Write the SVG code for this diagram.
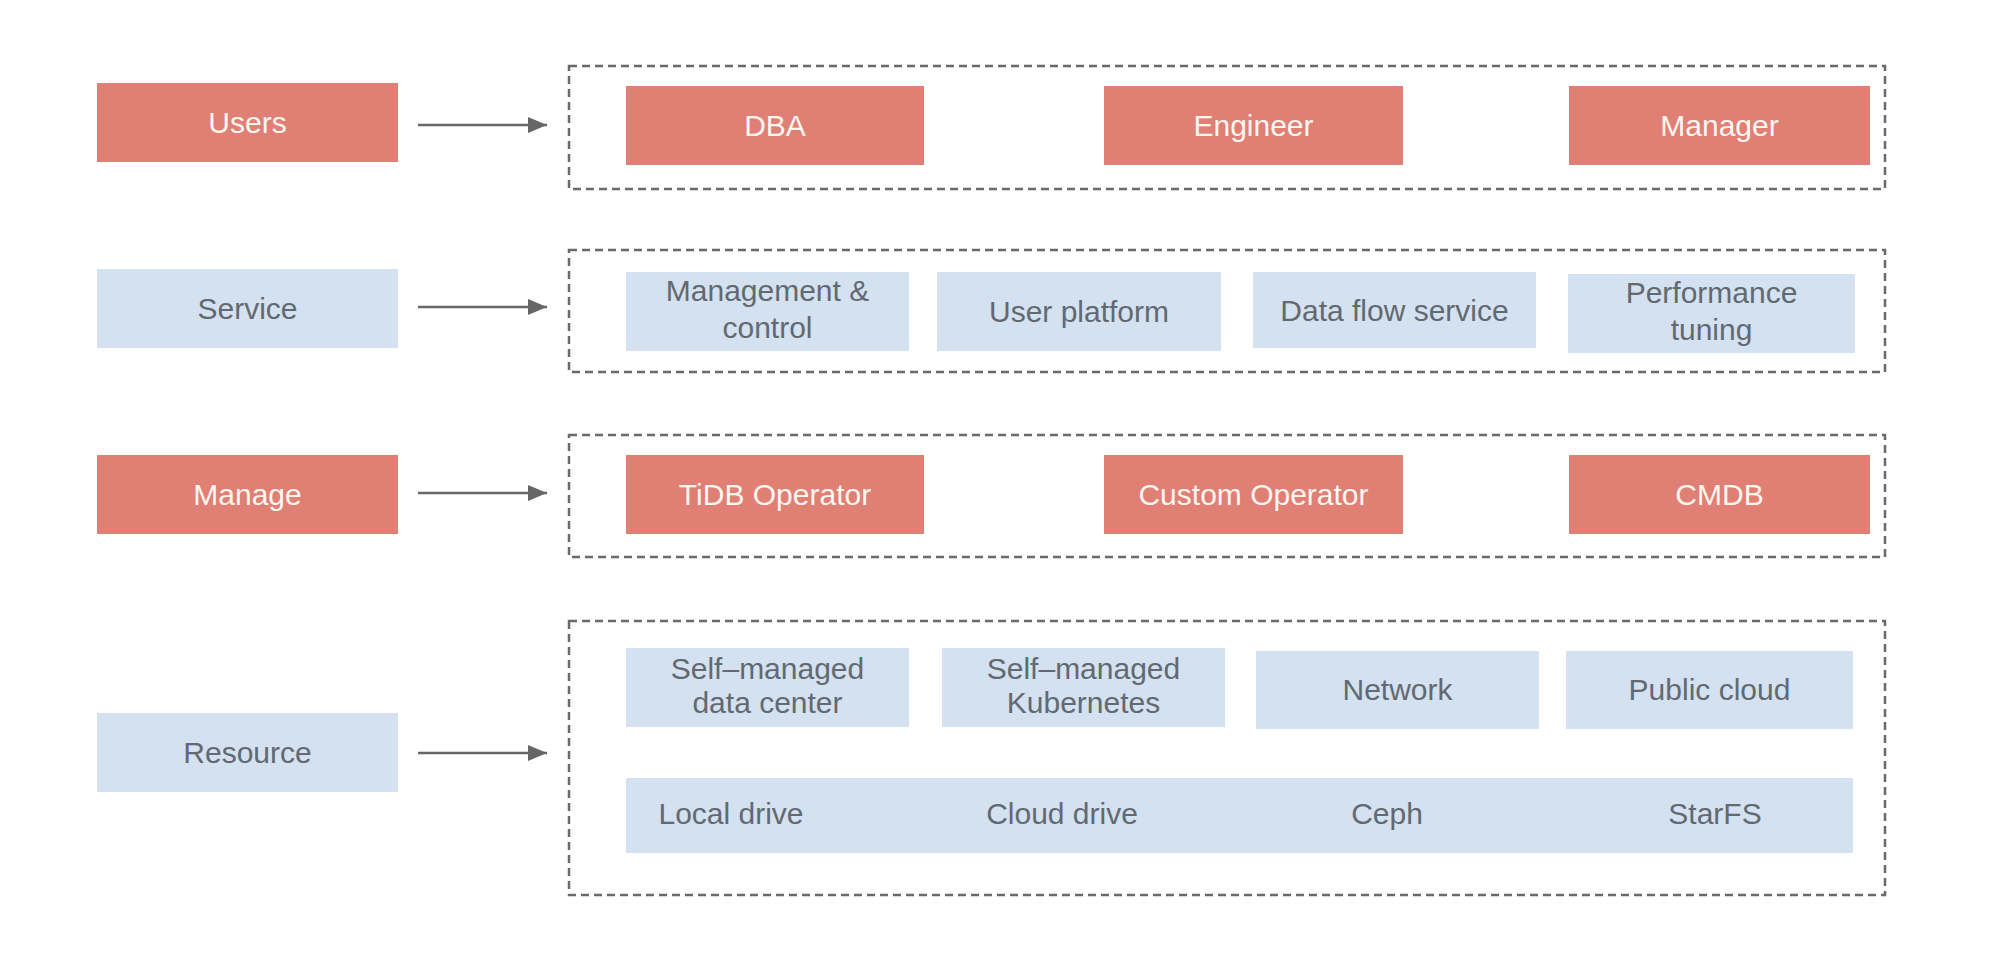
<svg xmlns="http://www.w3.org/2000/svg" width="1999" height="961" viewBox="0 0 1999 961">
  <defs>
    <style>
      .red { fill: #E07F73; }
      .blue { fill: #D3E1F1; }
      .tw { font-family: "Liberation Sans", Arial, sans-serif; font-size: 30px; fill: #FFF6F2; text-anchor: middle; }
      .tg { font-family: "Liberation Sans", Arial, sans-serif; font-size: 30px; fill: #626970; text-anchor: middle; }
      .dash { fill: none; stroke: #6A6A6A; stroke-width: 2.5; stroke-dasharray: 8 5; }
      .conn { stroke: #666666; stroke-width: 2.5; fill: none; }
    </style>
    <marker id="arrow" markerWidth="20" markerHeight="16" refX="19" refY="8" orient="auto" markerUnits="userSpaceOnUse">
      <polygon points="0,0 19,8 0,16" fill="#666666"/>
    </marker>
  </defs>
  <rect width="1999" height="961" fill="#FFFFFF"/>

  <!-- Layer labels -->
  <g id="users"><rect class="red" x="97" y="83" width="301" height="79"/><text class="tw" x="247.5" y="133">Users</text></g>
  <g id="service"><rect class="blue" x="97" y="269" width="301" height="79"/><text class="tg" x="247.5" y="319">Service</text></g>
  <g id="manage"><rect class="red" x="97" y="455" width="301" height="79"/><text class="tw" x="247.5" y="505">Manage</text></g>
  <g id="resource"><rect class="blue" x="97" y="713" width="301" height="79"/><text class="tg" x="247.5" y="763">Resource</text></g>

  <!-- Dashed containers -->
  <g id="users-group"><rect class="dash" x="569" y="66" width="1316" height="123"/></g>
  <g id="service-group"><rect class="dash" x="569" y="250" width="1316" height="122"/></g>
  <g id="manage-group"><rect class="dash" x="569" y="435" width="1316" height="122"/></g>
  <g id="resource-group"><rect class="dash" x="569" y="621" width="1316" height="274"/></g>

  <!-- Connectors -->
  <g id="connectors">
    <line class="conn" x1="418" y1="125" x2="547" y2="125" marker-end="url(#arrow)"/>
    <line class="conn" x1="418" y1="307" x2="547" y2="307" marker-end="url(#arrow)"/>
    <line class="conn" x1="418" y1="493" x2="547" y2="493" marker-end="url(#arrow)"/>
    <line class="conn" x1="418" y1="753" x2="547" y2="753" marker-end="url(#arrow)"/>
  </g>

  <!-- Users row -->
  <g id="dba"><rect class="red" x="626" y="86" width="298" height="79"/><text class="tw" x="775" y="136">DBA</text></g>
  <g id="engineer"><rect class="red" x="1104" y="86" width="299" height="79"/><text class="tw" x="1253.5" y="136">Engineer</text></g>
  <g id="manager"><rect class="red" x="1569" y="86" width="301" height="79"/><text class="tw" x="1719.5" y="136">Manager</text></g>

  <!-- Service row -->
  <g id="mgmt-control"><rect class="blue" x="626" y="272" width="283" height="79"/><text class="tg" x="767.5" y="301">Management &amp;</text><text class="tg" x="767.5" y="338">control</text></g>
  <g id="user-platform"><rect class="blue" x="937" y="272" width="284" height="79"/><text class="tg" x="1079" y="322">User platform</text></g>
  <g id="data-flow"><rect class="blue" x="1253" y="272" width="283" height="76"/><text class="tg" x="1394.5" y="321">Data flow service</text></g>
  <g id="perf-tuning"><rect class="blue" x="1568" y="274" width="287" height="79"/><text class="tg" x="1711.5" y="303">Performance</text><text class="tg" x="1711.5" y="340">tuning</text></g>

  <!-- Manage row -->
  <g id="tidb-operator"><rect class="red" x="626" y="455" width="298" height="79"/><text class="tw" x="775" y="505">TiDB Operator</text></g>
  <g id="custom-operator"><rect class="red" x="1104" y="455" width="299" height="79"/><text class="tw" x="1253.5" y="505">Custom Operator</text></g>
  <g id="cmdb"><rect class="red" x="1569" y="455" width="301" height="79"/><text class="tw" x="1719.5" y="505">CMDB</text></g>

  <!-- Resource row -->
  <g id="self-dc"><rect class="blue" x="626" y="648" width="283" height="79"/><text class="tg" x="767.5" y="679">Self–managed</text><text class="tg" x="767.5" y="713">data center</text></g>
  <g id="self-k8s"><rect class="blue" x="942" y="648" width="283" height="79"/><text class="tg" x="1083.5" y="679">Self–managed</text><text class="tg" x="1083.5" y="713">Kubernetes</text></g>
  <g id="network"><rect class="blue" x="1256" y="651" width="283" height="78"/><text class="tg" x="1397.5" y="700">Network</text></g>
  <g id="public-cloud"><rect class="blue" x="1566" y="651" width="287" height="78"/><text class="tg" x="1709.5" y="700">Public cloud</text></g>

  <g id="storage"><rect class="blue" x="626" y="778" width="1227" height="75"/>
    <text class="tg" x="731" y="824">Local drive</text>
    <text class="tg" x="1062" y="824">Cloud drive</text>
    <text class="tg" x="1387" y="824">Ceph</text>
    <text class="tg" x="1715" y="824">StarFS</text>
  </g>
</svg>
